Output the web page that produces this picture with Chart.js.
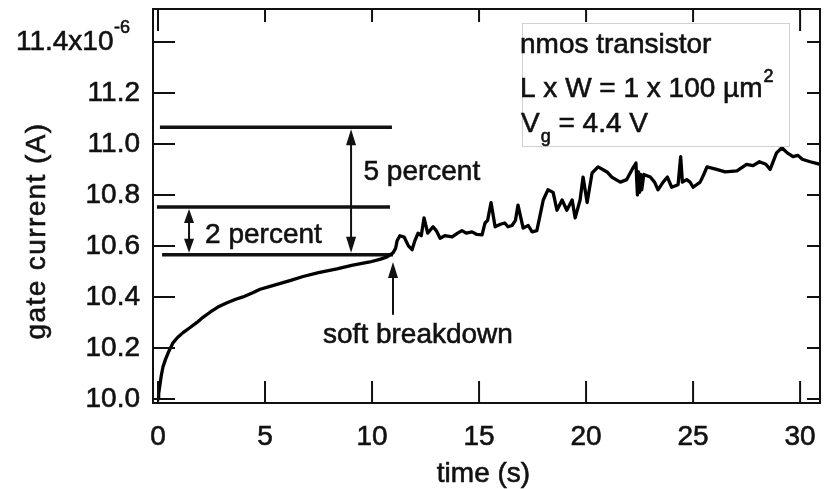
<!DOCTYPE html>
<html><head><meta charset="utf-8">
<script src="https://cdn.jsdelivr.net/npm/chart.js@4.4.1/dist/chart.umd.min.js"></script>
<style>html,body{margin:0;padding:0;background:#fff;}canvas{display:block;}</style>
</head><body>
<canvas id="c" width="825" height="489"></canvas>
<script>
// ---- data (gate current in units of 1e-6 A) ----
const timeS = [0,0.03,0.08,0.15,0.23,0.35,0.47,0.7,0.9,1.17,1.5,1.82,2.1,2.43,2.8,3.2,3.6,3.97,4.4,4.77,5.2,5.6,6.2,6.78,7.5,8.36,9.1,9.9,10.4,10.7,10.98,
  11.1,11.17,11.3,11.5,11.7,11.87,12.0,12.15,12.3,12.43,12.6,12.85,13.0,13.18,13.4,13.74,14.0,14.2,14.4,14.67,14.9,15.14,15.28,15.4,15.56,15.75,16.0,16.2,16.35,16.54,16.7,16.82,17.06,17.3,17.48,17.7,17.85,
  18.0,18.22,18.46,18.64,18.88,19.1,19.35,19.49,19.72,19.86,20.05,20.28,20.56,20.98,21.2,21.6,21.9,22.15,22.33,22.4,22.45,22.5,22.55,22.6,22.7,23.0,23.2,23.36,23.6,23.8,24.0,24.3,24.42,24.5,24.7,24.86,
  25.0,25.33,25.5,25.65,26.1,26.5,27.05,27.5,27.8,28.1,28.4,28.6,28.9,29.15,29.4,29.67,29.9,30.1,30.47,30.93];
const gateCurrent = [10.0,10.02,10.05,10.09,10.125,10.155,10.18,10.22,10.24,10.26,10.28,10.30,10.32,10.34,10.36,10.376,10.39,10.40,10.415,10.43,10.44,10.45,10.465,10.48,10.495,10.51,10.525,10.537,10.548,10.557,10.573,
  10.59,10.62,10.64,10.635,10.60,10.585,10.62,10.65,10.64,10.71,10.65,10.675,10.66,10.63,10.64,10.635,10.65,10.66,10.65,10.655,10.645,10.643,10.69,10.70,10.77,10.675,10.685,10.69,10.675,10.68,10.70,10.76,10.67,10.68,10.655,10.66,10.72,
  10.78,10.82,10.81,10.74,10.78,10.74,10.78,10.71,10.78,10.87,10.77,10.886,10.91,10.89,10.87,10.85,10.86,10.90,10.925,10.80,10.89,10.81,10.88,10.82,10.88,10.87,10.85,10.82,10.85,10.87,10.83,10.84,10.95,10.85,10.86,10.85,
  10.83,10.85,10.88,10.91,10.90,10.89,10.894,10.92,10.915,10.93,10.92,10.90,10.965,10.985,10.965,10.95,10.955,10.94,10.93,10.92];
const xTicks = [0,5,10,15,20,25,30];
const yTicks = [10.0,10.2,10.4,10.6,10.8,11.0,11.2,11.4];
// reference levels (start of soft breakdown, +2 %, +5 %)
const refLevels = [11.065, 10.753, 10.565];
const refStart  = [0.09, -0.05, 0.19];
const refEnd    = [10.93, 10.84, 10.98];
const legendLines = ['nmos transistor', 'L x W = 1 x 100 \u00B5m', 'V', 'g', ' = 4.4 V'];

const INK = '#111';
const FONT = "'Liberation Sans', Arial, Helvetica, sans-serif";
const STROKE_W = 0.6;

const datasets = [{
  data: timeS.map((t,i)=>({x:t, y:gateCurrent[i]})),
  borderColor: '#000', borderWidth: 3.3, pointRadius: 0, tension: 0,
  borderJoinStyle: 'round', borderCapStyle: 'round'
}];
refLevels.forEach((lv,i)=>{
  datasets.push({
    data: [{x:refStart[i], y:lv}, {x:refEnd[i], y:lv}],
    borderColor: INK, borderWidth: 3.5, pointRadius: 0, clip: false
  });
});

function arrowHead(ctx, x, y, dir, len, hw){
  ctx.beginPath();
  ctx.moveTo(x, y);
  ctx.lineTo(x - hw, y + dir*len);
  ctx.lineTo(x + hw, y + dir*len);
  ctx.closePath();
  ctx.fill();
}
function txt(ctx, s, x, y){
  ctx.fillText(s, x, y);
  ctx.strokeText(s, x, y);
}

const overlay = {
  id: 'overlay',
  afterDraw(chart){
    const {ctx, chartArea:a, scales:{x:xs, y:ys}} = chart;
    ctx.save();
    ctx.strokeStyle = INK; ctx.fillStyle = INK;
    // frame
    ctx.lineWidth = 2;
    ctx.strokeRect(a.left, a.top, a.right - a.left, a.bottom - a.top);
    // inside ticks
    ctx.beginPath();
    xs.ticks.forEach(t=>{
      const px = xs.getPixelForValue(t.value);
      ctx.moveTo(px, a.bottom); ctx.lineTo(px, a.bottom - 22);
      const tl = (t.value === xTicks[0] || t.value === xTicks[xTicks.length-1]) ? 22 : 13;
      ctx.moveTo(px, a.top); ctx.lineTo(px, a.top + tl);
    });
    ys.ticks.forEach(t=>{
      const py = ys.getPixelForValue(t.value);
      ctx.moveTo(a.left, py); ctx.lineTo(a.left + 22, py);
      ctx.moveTo(a.right, py); ctx.lineTo(a.right - 13, py);
    });
    ctx.stroke();

    // arrows
    ctx.lineWidth = 2;
    const a5x = xs.getPixelForValue(9.02);
    const yHi = ys.getPixelForValue(refLevels[0]) + 2;
    const yMid = ys.getPixelForValue(refLevels[1]) + 2;
    const yLo = ys.getPixelForValue(refLevels[2]) - 2;
    ctx.beginPath(); ctx.moveTo(a5x, yHi + 10); ctx.lineTo(a5x, yLo - 10); ctx.stroke();
    arrowHead(ctx, a5x, yHi, 1, 16, 5);
    arrowHead(ctx, a5x, yLo, -1, 16, 5);
    const a2x = xs.getPixelForValue(1.45);
    ctx.beginPath(); ctx.moveTo(a2x, yMid + 8); ctx.lineTo(a2x, yLo - 8); ctx.stroke();
    arrowHead(ctx, a2x, yMid, 1, 14, 5);
    arrowHead(ctx, a2x, yLo, -1, 14, 5);
    const abx = xs.getPixelForValue(10.98);
    const abTip = ys.getPixelForValue(10.537);
    const abEnd = ys.getPixelForValue(10.33);
    ctx.beginPath(); ctx.moveTo(abx, abTip + 10); ctx.lineTo(abx, abEnd); ctx.stroke();
    arrowHead(ctx, abx, abTip, 1, 16, 5);

    ctx.lineWidth = STROKE_W;
    // top y label with exponent
    const yTop = yTicks[yTicks.length-1];
    const pyTop = ys.getPixelForValue(yTop);
    ctx.font = '28px ' + FONT;
    ctx.textAlign = 'right'; ctx.textBaseline = 'middle';
    txt(ctx, yTop.toFixed(1) + 'x10', 113.5, pyTop);
    ctx.font = '18px ' + FONT;
    ctx.textAlign = 'left'; ctx.textBaseline = 'alphabetic';
    txt(ctx, '-6', 114, pyTop - 9);

    // annotation texts
    ctx.font = '28px ' + FONT;
    ctx.textAlign = 'left'; ctx.textBaseline = 'alphabetic';
    txt(ctx, '5 percent', xs.getPixelForValue(9.6), ys.getPixelForValue(10.859));
    txt(ctx, '2 percent', xs.getPixelForValue(2.2), ys.getPixelForValue(10.612));
    txt(ctx, 'soft breakdown', xs.getPixelForValue(7.71), ys.getPixelForValue(10.22));

    // axis titles
    ctx.textAlign = 'center';
    txt(ctx, 'time (s)', (a.left + a.right)/2 - 3, 482);
    ctx.save();
    ctx.translate(45, 231);
    ctx.rotate(-Math.PI/2);
    ctx.letterSpacing = '1.4px';
    txt(ctx, 'gate current (A)', 0, 0);
    ctx.restore();

    // legend box
    ctx.fillStyle = '#fff';
    ctx.fillRect(522, 23, 268, 124);
    ctx.strokeStyle = '#d0d0d0'; ctx.lineWidth = 1;
    ctx.strokeRect(522.5, 23.5, 267, 123);
    ctx.fillStyle = INK; ctx.strokeStyle = INK; ctx.lineWidth = STROKE_W;
    ctx.textAlign = 'left'; ctx.textBaseline = 'alphabetic';
    ctx.font = '28px ' + FONT;
    txt(ctx, legendLines[0], 520, 53);
    txt(ctx, legendLines[1], 520, 97);
    const w2 = ctx.measureText(legendLines[1]).width;
    ctx.font = '18px ' + FONT;
    txt(ctx, '2', 521 + w2, 82);
    ctx.font = '28px ' + FONT;
    txt(ctx, legendLines[2], 521, 132);
    const wv = ctx.measureText(legendLines[2]).width;
    ctx.font = '18px ' + FONT;
    txt(ctx, legendLines[3], 521 + wv + 1, 142);
    const wg = ctx.measureText(legendLines[3]).width;
    ctx.font = '28px ' + FONT;
    txt(ctx, legendLines[4], 521 + wv + wg + 1, 132);
    ctx.restore();
  }
};

new Chart(document.getElementById('c'), {
  type: 'line',
  data: { datasets },
  options: {
    responsive: false, animation: false, devicePixelRatio: 1,
    layout: { padding: { left: 0, top: 9, right: 5, bottom: 0 } },
    plugins: { legend: { display: false }, tooltip: { enabled: false } },
    scales: {
      x: {
        type: 'linear', min: -0.234, max: 30.93,
        afterBuildTicks: s => { s.ticks = xTicks.map(v => ({value: v})); },
        afterFit: s => { s.height = 86; s.paddingLeft = 0; s.paddingRight = 0; },
        grid: { display: false, drawTicks: false }, border: { display: false },
        ticks: { padding: 17, color: INK, textStrokeColor: INK, textStrokeWidth: STROKE_W,
                 font: { family: FONT, size: 28 }, maxRotation: 0, autoSkip: false,
                 callback: v => String(v) }
      },
      y: {
        type: 'linear', min: 9.984, max: 11.529,
        afterBuildTicks: s => { s.ticks = yTicks.map(v => ({value: v})); },
        afterFit: s => { s.width = 153; s.paddingTop = 0; s.paddingBottom = 0; },
        grid: { display: false, drawTicks: false }, border: { display: false },
        ticks: { padding: 13, color: INK, textStrokeColor: INK, textStrokeWidth: STROKE_W,
                 font: { family: FONT, size: 28 }, autoSkip: false,
                 callback: v => (Math.abs(v - yTicks[yTicks.length-1]) < 1e-9 ? '' : v.toFixed(1)) }
      }
    }
  },
  plugins: [overlay]
});
</script>
</body></html>
